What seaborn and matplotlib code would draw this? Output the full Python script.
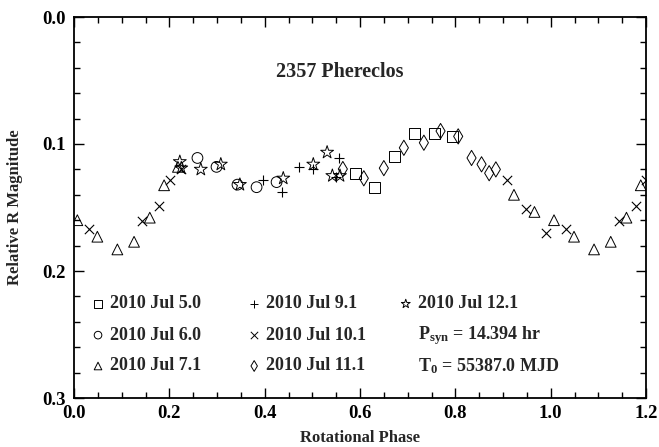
import numpy as np
import pandas as pd
import matplotlib
matplotlib.use("Agg")
import matplotlib.pyplot as plt
from matplotlib.ticker import MultipleLocator, FormatStrFormatter
import seaborn as sns

# Rotational phase and relative R magnitude, one pair of lists per night
jul05_phase = [0.590, 0.631, 0.673, 0.715, 0.757, 0.794]
jul05_mag = [0.123, 0.134, 0.110, 0.0916, 0.0916, 0.094]

jul06_phase = [0.259, 0.299, 0.343, 0.383, 0.425]
jul06_mag = [0.111, 0.118, 0.132, 0.134, 0.130]

jul07_phase = [0.007, 0.049, 0.091, 0.126, 0.159, 0.189, 0.218, 0.923, 0.966]
jul07_mag = [0.160, 0.173, 0.183, 0.177, 0.158, 0.1325, 0.118, 0.140, 0.1535]

jul09_phase = [0.396, 0.437, 0.472, 0.501, 0.555, 0.550]
jul09_mag = [0.128, 0.138, 0.118, 0.120, 0.111, 0.126]

jul10_phase = [0.032, 0.143, 0.179, 0.201, 0.224, 0.908, 0.948, 0.990]
jul10_mag = [0.167, 0.161, 0.149, 0.128, 0.120, 0.128, 0.151, 0.170]

jul11_phase = [0.564, 0.608, 0.650, 0.692, 0.734, 0.769, 0.806, 0.834, 0.855, 0.871, 0.885]
jul11_mag = [0.1197, 0.127, 0.119, 0.103, 0.099, 0.0898, 0.094, 0.111, 0.116, 0.123, 0.120]

jul12_phase = [0.222, 0.225, 0.266, 0.308, 0.348, 0.439, 0.502, 0.531, 0.542, 0.558]
jul12_mag = [0.114, 0.119, 0.120, 0.116, 0.132, 0.127, 0.116, 0.1066, 0.125, 0.125]

nights = ["2010 Jul 5.0", "2010 Jul 6.0", "2010 Jul 7.1", "2010 Jul 9.1",
          "2010 Jul 10.1", "2010 Jul 11.1", "2010 Jul 12.1"]
phases = [jul05_phase, jul06_phase, jul07_phase, jul09_phase,
          jul10_phase, jul11_phase, jul12_phase]
mags = [jul05_mag, jul06_mag, jul07_mag, jul09_mag,
        jul10_mag, jul11_mag, jul12_mag]
night_markers = ["s", "o", "^", "+", "x", "d", "*"]

period_text = r"P$_\mathrm{syn}$ = 14.394 hr"
epoch_text = r"T$_\mathrm{0}$ = 55387.0 MJD"

rows = []
for name, ph, mg in zip(nights, phases, mags):
    for p, m in zip(ph, mg):
        rows.append((name, p, m))
df = pd.DataFrame(rows, columns=["night", "phase", "mag"])
# repeat the first part of the cycle past phase 1.0
wrap = df[df["phase"] + 1.0 < 1.21].copy()
wrap["phase"] += 1.0
df = pd.concat([df, wrap], ignore_index=True)

sns.set_theme(style="ticks")
plt.rcParams["font.family"] = ["Liberation Serif", "DejaVu Serif"]
plt.rcParams["font.weight"] = "bold"
plt.rcParams["mathtext.fontset"] = "custom"
plt.rcParams["mathtext.rm"] = "Liberation Serif:bold"
plt.rcParams["mathtext.it"] = "Liberation Serif:bold"
plt.rcParams["mathtext.bf"] = "Liberation Serif:bold"

fig = plt.figure(figsize=(6.59, 4.47), dpi=100)
ax = fig.add_axes([74 / 659, 1 - 398 / 447, 572 / 659, 381 / 447])

for name, mk in zip(nights, night_markers):
    sub = df[df["night"] == name]
    if mk in ("+", "x"):
        sns.scatterplot(data=sub, x="phase", y="mag", marker=mk, color="black",
                        s=45, linewidth=0.8, ax=ax, legend=False)
    else:
        size = 95 if mk == "*" else 60
        sns.scatterplot(data=sub, x="phase", y="mag", marker=mk, color="black",
                        facecolor="none", edgecolor="black", s=size,
                        linewidth=0.7, ax=ax, legend=False)

ax.set_xlim(0.0, 1.2)
ax.set_ylim(0.3, 0.0)
ax.xaxis.set_major_locator(MultipleLocator(0.2))
ax.xaxis.set_minor_locator(MultipleLocator(0.05))
ax.yaxis.set_major_locator(MultipleLocator(0.1))
ax.yaxis.set_minor_locator(MultipleLocator(0.02))
ax.xaxis.set_major_formatter(FormatStrFormatter("%.1f"))
ax.yaxis.set_major_formatter(FormatStrFormatter("%.1f"))
ax.tick_params(which="both", direction="in", top=True, right=True,
               color="black", width=1.0, labelsize=13.5, labelcolor="black")
ax.tick_params(which="major", length=7)
ax.tick_params(which="minor", length=4)
ax.tick_params(axis="x", pad=5)
ax.tick_params(axis="y", pad=6)
for lab in ax.get_xticklabels() + ax.get_yticklabels():
    lab.set_fontweight("bold")
for sp in ax.spines.values():
    sp.set_visible(True)
    sp.set_color("black")
    sp.set_linewidth(1.3)

ax.set_xlabel("Rotational Phase", fontsize=12, fontweight="bold", labelpad=6)
ax.set_ylabel("Relative R Magnitude", fontsize=12, fontweight="bold", labelpad=14)

ax.text(0.465, 0.855, "2357 Phereclos", transform=ax.transAxes, ha="center",
        va="center", fontsize=14.5, fontweight="bold")

# key laid out in three columns inside the plot
row_y = [0.247, 0.165, 0.084]
col_mx = [0.042, 0.315, 0.580]
col_tx = [0.063, 0.336, 0.601]
for i, (name, mk) in enumerate(zip(nights, night_markers)):
    col, row = divmod(i, 3)
    if mk in ("+", "x"):
        ax.scatter([col_mx[col]], [row_y[row]], marker=mk, s=28, color="black",
                   linewidth=0.7, transform=ax.transAxes)
    else:
        ax.scatter([col_mx[col]], [row_y[row]], marker=mk,
                   s=45 if mk == "*" else 30, facecolor="none",
                   edgecolor="black", linewidth=0.7, transform=ax.transAxes)
    ax.text(col_tx[col], row_y[row], name, transform=ax.transAxes, ha="left",
            va="center", fontsize=13, fontweight="bold")
ax.text(col_tx[2], row_y[1], period_text, transform=ax.transAxes, ha="left",
        va="center", fontsize=13, fontweight="bold")
ax.text(col_tx[2], row_y[2], epoch_text, transform=ax.transAxes, ha="left",
        va="center", fontsize=13, fontweight="bold")

fig.savefig("out.png", dpi=100, facecolor="white")
